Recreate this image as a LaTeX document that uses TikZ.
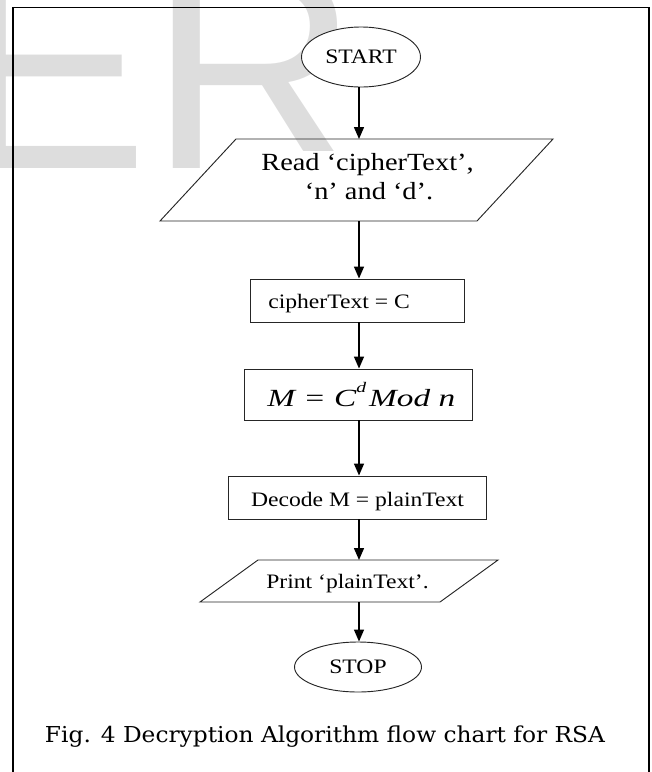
\documentclass[tikz,border=0pt]{standalone}
\usepackage{fontspec}
\setmainfont{Liberation Serif}[FakeStretch=1.15]
\newfontfamily\mathtxtfont{Liberation Serif}[FakeStretch=1.35]
\newfontfamily\capfont{DejaVu Serif}
\newfontfamily\wmfont{Liberation Sans}
\usetikzlibrary{arrows.meta,shapes.geometric}
\definecolor{wmgray}{RGB}{221,221,221}
\begin{document}
\begin{tikzpicture}[x=0.75pt,y=-0.75pt,
  arr/.style={-{Triangle[length=9pt,width=7.5pt]}, line width=1.1pt},
  shp/.style={draw=black!85, line width=0.7pt},
  ell/.style={shp, ellipse, fill=white, inner sep=0pt, font=\fontsize{15.4}{18}\selectfont},
  box/.style={shp, rectangle, inner sep=0pt},
  txt/.style={inner sep=0pt, font=\fontsize{15.4}{18}\selectfont}
]
\useasboundingbox (0,0) rectangle (651,772);
% watermark
\begin{scope}
\clip (0,0) rectangle (651,772);
\node[anchor=base west, inner sep=0pt, text=wmgray, font=\wmfont\fontsize{217.5}{217.5}\selectfont] (wm) at (-44.3,168) {ER};
\end{scope}
% frame
\draw[line width=1.3pt] (12.7,772) -- (12.7,7.5) -- (649,7.5) -- (649,772);
% START
\node[ell, minimum width=89.25pt, minimum height=45pt] (start) at (361,57) {START};
% Read parallelogram (white text area first, then outline)
\node[fill=white, inner sep=0pt, minimum width=180pt, minimum height=47pt] (readbg) at (367.5,182) {};
\draw[shp] (236,139) -- (553,139) -- (477,221) -- (160,221) -- cycle;
\coordinate (rdT) at (359,139);
\coordinate (rdB) at (359,221);
\node[anchor=base, inner sep=0pt, font=\fontsize{18.5}{21}\selectfont] (readA) at (367.5,170) {Read ‘cipherText’,};
\node[anchor=base, inner sep=0pt, font=\fontsize{18.5}{21}\selectfont] (readB) at (369,199) {‘n’ and ‘d’.};
% cipherText box
\node[box, minimum width=160.5pt, minimum height=32.25pt] (cipher) at (357,300.5) {};
\node[txt, anchor=base west] (ciphertxt) at (268,308.5) {cipherText = C};
% M box
\node[box, minimum width=171pt, minimum height=38.25pt] (mbox) at (358,394.5) {};
\node[anchor=base west, inner sep=0pt, font=\mathtxtfont\fontsize{18.5}{21}\selectfont] (mtxt) at (267,406) {\itshape M = C\raisebox{0.55em}{\fontsize{11}{11}\selectfont d}\hspace{0.12em}Mod n};
% Decode box
\node[box, minimum width=193.5pt, minimum height=32.25pt] (decode) at (357,497.5) {};
\node[txt, anchor=base] (decodetxt) at (357.5,506) {Decode M = plainText};
% Print parallelogram
\draw[shp] (258,560) -- (498,560) -- (440,602) -- (200,602) -- cycle;
\coordinate (prT) at (359,560);
\coordinate (prB) at (359,602);
\node[txt, anchor=base] (printtxt) at (347.5,588) {Print ‘plainText’.};
% STOP
\node[ell, minimum width=95.25pt, minimum height=37.5pt] (stop) at (358,667) {STOP};
% connectors
\draw[arr] (start.south -| rdT) -- (rdT);
\draw[arr] (rdB) -- (rdB |- cipher.north);
\draw[arr] (cipher.south -| rdB) -- (rdB |- mbox.north);
\draw[arr] (mbox.south -| rdB) -- (rdB |- decode.north);
\draw[arr] (decode.south -| rdB) -- (prT);
\draw[arr] (prB) -- (prB |- stop.north);
% caption
\node[anchor=base, inner sep=0pt, font=\capfont\fontsize{16.5}{20}\selectfont] (cap) at (325,742) {\resizebox{420pt}{12.5pt}{Fig. 4 Decryption Algorithm flow chart for RSA}};
\end{tikzpicture}
\end{document}
